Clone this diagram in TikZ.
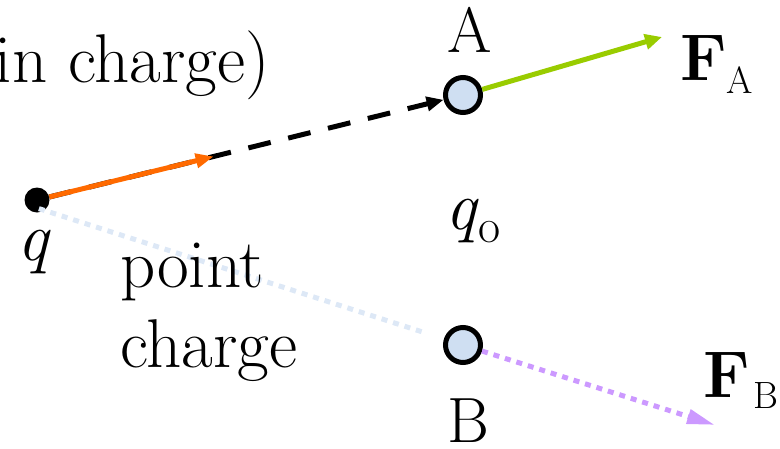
\documentclass[tikz,border=0pt]{standalone}
\usepackage{fontspec}
\usetikzlibrary{arrows.meta,calc}
\definecolor{ptblue}{HTML}{CFDFF2}
\definecolor{orng}{HTML}{FF6A00}
\definecolor{grn}{HTML}{99CC00}
\definecolor{purp}{HTML}{CC99FF}
\definecolor{ltblue}{HTML}{DDE8F6}
\begin{document}
\begin{tikzpicture}[x=1pt,y=-1pt,
  txt/.style={inner sep=0pt, font=\fontsize{69}{80}\selectfont},
  lbl/.style={inner sep=0pt, font=\fontsize{64}{70}\selectfont},
  testpt/.style={circle, draw=black, line width=5pt, fill=ptblue, minimum size=35pt, inner sep=0pt},
  qdot/.style={circle, fill=black, minimum size=25pt, inner sep=0pt},
  blackdash/.style={line width=5pt, draw=black, dash pattern=on 23pt off 18pt, -{Triangle[length=17pt,width=14pt]}},
  orangearrow/.style={line width=5pt, draw=orng, -{Triangle[length=18pt,width=14pt]}},
  greenarrow/.style={line width=5pt, draw=grn, -{Triangle[length=17pt,width=15pt]}},
  purparrow/.style={line width=5pt, draw=purp, dash pattern=on 6pt off 6pt, -{Triangle[length=28pt,width=14pt]}},
  ltdot/.style={line width=5pt, draw=ltblue, dash pattern=on 6pt off 6pt}
]
\useasboundingbox (0,0) rectangle (780,448);
\node[qdot] (q) at (37,200) {};
\node[testpt] (A) at (463,95) {};
\node[testpt] (B) at (463,345) {};
\coordinate (oe) at ($(q)!182pt!(A)$);
\coordinate (fa) at (662,37);
\coordinate (fb) at (715,425);

\draw[ltdot, shorten <=2pt, shorten >=20pt] ($(q)+(0,8)$) -- (B);
\draw[blackdash] (q) -- (A);
\draw[orangearrow] (q) -- (oe);
\draw[greenarrow] (A) -- (fa);
\draw[purparrow] (B) -- (fb);

\node[txt, anchor=base east] (main) at (270,82) {in charge)};
\node[txt, anchor=base west] (pc1) at (120,287) {point};
\node[txt, anchor=base west] (pc2) at (120,367) {charge};
\node[lbl, anchor=base] (la) at (470,52) {A};
\node[lbl, anchor=base] (lb) at (468,442) {B};
\node[txt, anchor=base] (lq) at (34,260) {\textit{q}};
\node[txt, anchor=base west] (lq0) at (445,229) {\textit{q}\raisebox{-13pt}{\fontsize{48}{48}\selectfont o}};
\node[txt, anchor=base west] (lfa) at (680,80) {\fontsize{66}{70}\selectfont\textbf{F}\raisebox{-13pt}{\fontsize{38}{38}\selectfont A}};
\node[txt, anchor=base west] (lfb) at (703,397) {\fontsize{66}{70}\selectfont\textbf{F}\kern4pt\raisebox{-11pt}{\fontsize{38}{38}\selectfont B}};
\end{tikzpicture}
\end{document}
